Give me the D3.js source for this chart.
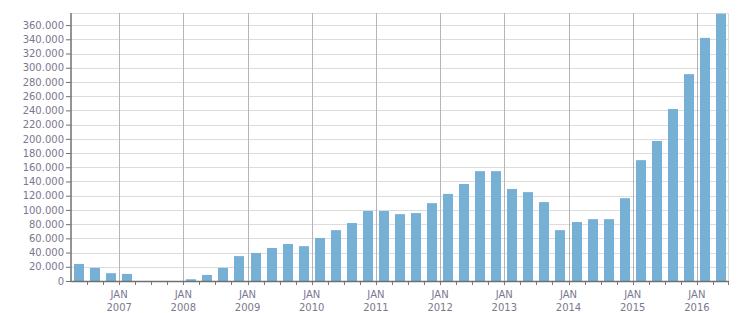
<!DOCTYPE html>
<html>
<head>
<meta charset="utf-8">
<script src="https://cdn.jsdelivr.net/npm/d3@7"></script>
<style>
  body { margin: 0; background: #fff; }
  text { font-family: "DejaVu Sans", Verdana, sans-serif; font-size: 10px; fill: #7a7890; }
</style>
</head>
<body>
<div id="chart"></div>
<script>
// quarterly categories, Q2 2006 .. Q2 2016
const quarters = [
  "2006-Q2", "2006-Q3", "2006-Q4",
  "2007-Q1", "2007-Q2", "2007-Q3", "2007-Q4",
  "2008-Q1", "2008-Q2", "2008-Q3", "2008-Q4",
  "2009-Q1", "2009-Q2", "2009-Q3", "2009-Q4",
  "2010-Q1", "2010-Q2", "2010-Q3", "2010-Q4",
  "2011-Q1", "2011-Q2", "2011-Q3", "2011-Q4",
  "2012-Q1", "2012-Q2", "2012-Q3", "2012-Q4",
  "2013-Q1", "2013-Q2", "2013-Q3", "2013-Q4",
  "2014-Q1", "2014-Q2", "2014-Q3", "2014-Q4",
  "2015-Q1", "2015-Q2", "2015-Q3", "2015-Q4",
  "2016-Q1", "2016-Q2"
];
const values = [
  24000, 18500, 11000,
  10000, 0, 0, 0,
  2500, 8500, 18500, 35000,
  39500, 46500, 52000, 49000,
  60500, 71500, 81500, 98500,
  98500, 94000, 95500, 109500,
  122500, 136500, 154500, 154500,
  129500, 125000, 111000, 71500,
  83000, 87000, 87000, 116500,
  170000, 197000, 242000, 291000,
  342000, 376000
];
const yearTicks = ["2007", "2008", "2009", "2010", "2011", "2012", "2013", "2014", "2015", "2016"];
const yTicks = d3.range(0, 360001, 20000);
const yMax = 377000;

const margin = { top: 13, right: 22, bottom: 32, left: 71 },
    width = 751 - margin.left - margin.right,
    height = 313 - margin.top - margin.bottom;

const svg = d3.select("#chart")
    .append("svg")
    .attr("width", 751)
    .attr("height", 313)
    .append("g")
    .attr("transform", `translate(${margin.left},${margin.top})`);

const data = quarters.map((q, i) => ({ q: q, v: values[i] }));

// band for bars, plain band for the quarter boundaries
const x = d3.scaleBand()
    .domain(quarters)
    .range([0, width])
    .paddingInner(0.375)
    .paddingOuter(0.1875);
const xb = d3.scaleBand()
    .domain(quarters)
    .range([0, width]);

const y = d3.scaleLinear()
    .domain([0, yMax])
    .range([height, 0]);

const fmt = d3.formatLocale({ decimal: ",", thousands: ".", grouping: [3], currency: ["", ""] }).format(",d");

// horizontal grid
svg.append("g")
    .selectAll("line")
    .data(yTicks)
    .join("line")
    .attr("x1", 0)
    .attr("x2", width)
    .attr("y1", d => Math.round(y(d)) + 0.5)
    .attr("y2", d => Math.round(y(d)) + 0.5)
    .attr("stroke", "#dcdcdc");

// top and right border
svg.append("line")
    .attr("x1", 0).attr("x2", width)
    .attr("y1", 0.5).attr("y2", 0.5)
    .attr("stroke", "#dcdcdc");
svg.append("line")
    .attr("x1", width - 0.5).attr("x2", width - 0.5)
    .attr("y1", 0).attr("y2", height)
    .attr("stroke", "#dcdcdc");

// year lines (JAN)
svg.append("g")
    .selectAll("line")
    .data(yearTicks)
    .join("line")
    .attr("x1", d => Math.round(xb(d + "-Q1")) + 0.5)
    .attr("x2", d => Math.round(xb(d + "-Q1")) + 0.5)
    .attr("y1", 0)
    .attr("y2", height + 4)
    .attr("stroke", "#b4b4b4");

// bars
svg.append("g")
    .selectAll("rect")
    .data(data)
    .join("rect")
    .attr("x", d => Math.round(x(d.q)))
    .attr("y", d => y(d.v))
    .attr("width", Math.round(x.bandwidth()))
    .attr("height", d => height - y(d.v))
    .attr("fill", "#76b0d4");

// quarter ticks
svg.append("g")
    .selectAll("line")
    .data(quarters.slice(1).concat(["end"]))
    .join("line")
    .attr("x1", d => d === "end" ? width - 0.5 : Math.round(xb(d)) + 0.5)
    .attr("x2", d => d === "end" ? width - 0.5 : Math.round(xb(d)) + 0.5)
    .attr("y1", height)
    .attr("y2", height + 4)
    .attr("stroke", "#7a7a7a");

// bottom axis line
svg.append("line")
    .attr("x1", 0).attr("x2", width)
    .attr("y1", height + 0.5).attr("y2", height + 0.5)
    .attr("stroke", "#707070")
    .attr("stroke-width", 1.5);

// year labels
const yl = svg.append("g")
    .selectAll("text")
    .data(yearTicks)
    .join("text")
    .attr("x", d => xb(d + "-Q1"))
    .attr("text-anchor", "middle");
yl.append("tspan")
    .attr("x", d => xb(d + "-Q1"))
    .attr("y", height + 17)
    .text("JAN");
yl.append("tspan")
    .attr("x", d => xb(d + "-Q1"))
    .attr("y", height + 30)
    .text(d => d);

// y axis
const yAxis = svg.append("g")
    .call(d3.axisLeft(y).tickValues(yTicks).tickFormat(fmt).tickSize(5).tickPadding(2));
yAxis.select(".domain").remove();
yAxis.selectAll(".tick line").attr("stroke", "#707070");
yAxis.selectAll(".tick text")
    .attr("fill", null)
    .style("font-family", "DejaVu Sans, sans-serif")
    .style("font-size", "10px");
svg.append("line")
    .attr("x1", 0).attr("x2", 0)
    .attr("y1", 0).attr("y2", height + 1)
    .attr("stroke", "#707070")
    .attr("stroke-width", 1.5);
</script>
</body>
</html>
